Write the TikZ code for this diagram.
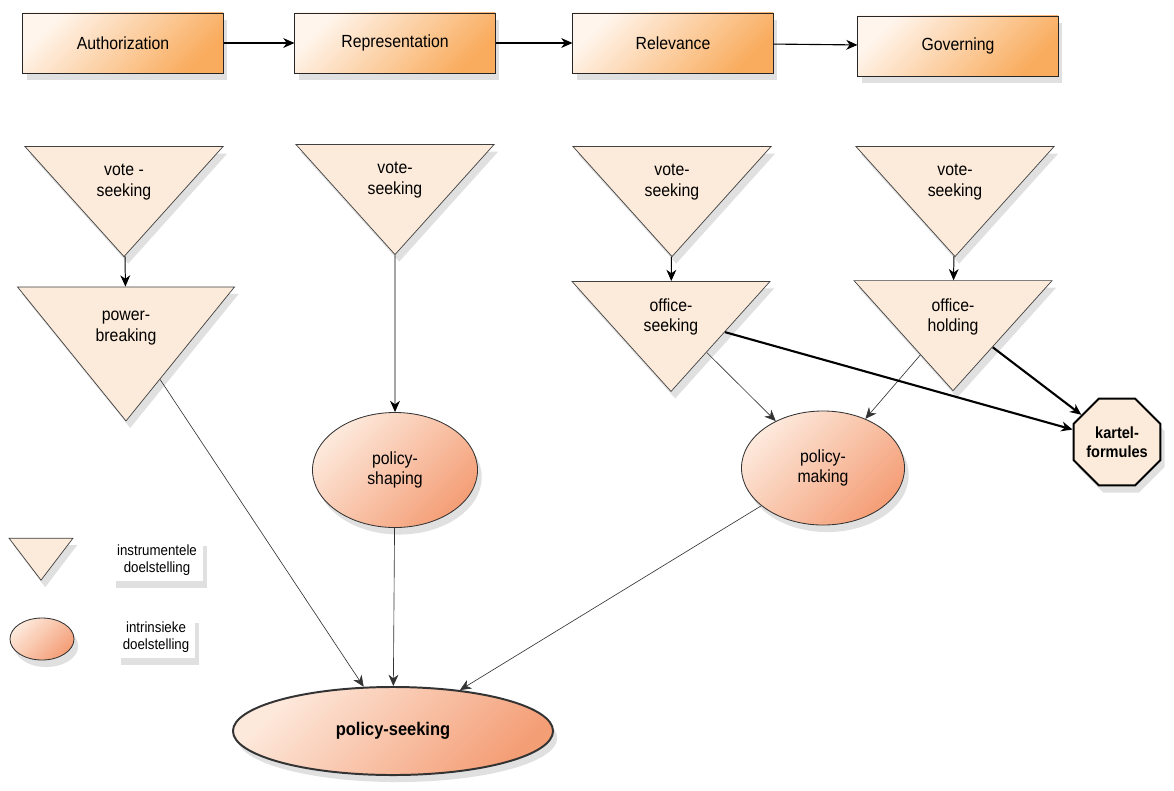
\documentclass[tikz,border=0pt]{standalone}
\usepackage{fontspec}
\setmainfont{Liberation Sans}[FakeStretch=0.9]
\usetikzlibrary{shapes.geometric, shadows, arrows.meta}
\definecolor{phaselight}{HTML}{FFF5EC}
\definecolor{phasedark}{HTML}{F9AC5E}
\definecolor{cream}{HTML}{FCEBDA}
\definecolor{ovallight}{HTML}{FDE9DC}
\definecolor{ovaldark}{HTML}{F49E76}
\tikzset{
	->, % makes the edges directed
	>={Stealth[length=8pt, width=7pt, inset=2.5pt]}, % bold arrow heads
	soft shadow/.style={drop shadow={shadow xshift=3pt, shadow yshift=-5pt, fill=black!40, opacity=0.3}}, % grey shadow under every shape
	phase/.style={rectangle, draw=black!85, line width=0.7pt, top color=phaselight, bottom color=phasedark, shading angle=45, minimum width=5cm, minimum height=1.5cm, soft shadow, font=\fontsize{12.5}{14.5}\selectfont}, % the four phases on top
	instrumental/.style={isosceles triangle, isosceles triangle stretches, shape border rotate=270, draw=black!75, line width=0.5pt, fill=cream, inner sep=0pt, align=center, soft shadow, font=\fontsize{12.5}{14.5}\selectfont}, % instrumentele doelstelling
	intrinsic/.style={ellipse, draw=black!80, line width=0.6pt, top color=ovallight, bottom color=ovaldark, shading angle=45, inner sep=0pt, align=center, soft shadow, font=\fontsize{12.5}{14.5}\selectfont}, % intrinsieke doelstelling
	kartel/.style={regular polygon, regular polygon sides=8, draw=black, line width=1.4pt, fill=cream, minimum size=2.15cm, inner sep=0pt, align=center, soft shadow, font=\bfseries\fontsize{11.5}{13.5}\selectfont}, % the octagon
	legend/.style={align=center, fill=white, soft shadow, inner sep=4pt, font=\fontsize{10.5}{12}\selectfont}, % legend texts
}

\begin{document}
\begin{tikzpicture}[x=0.025cm, y=-0.025cm]
	\useasboundingbox (0,0) rectangle (1174,790);
	% phases
	\node[phase] (auth) at (123,43) {Authorization};
	\node[phase] (repr) at (395,43) {Representation};
	\node[phase] (relev) at (673,43) {Relevance};
	\node[phase] (gov) at (958,46) {Governing};
	% goals
	\node[instrumental, minimum width=4.95cm, minimum height=2.75cm] (vote1) at (124,182) {vote -\\seeking};
	\node[instrumental, minimum width=5.425cm, minimum height=3.35cm] (power) at (126,328) {power-\\breaking};
	\node[instrumental, minimum width=4.95cm, minimum height=2.75cm] (vote2) at (395,180) {vote-\\seeking};
	\node[instrumental, minimum width=4.95cm, minimum height=2.75cm] (vote3) at (672,182) {vote-\\seeking};
	\node[instrumental, minimum width=4.95cm, minimum height=2.75cm] (offseek) at (671,317) {office-\\seeking};
	\node[instrumental, minimum width=4.95cm, minimum height=2.75cm] (vote4) at (955,182) {vote-\\seeking};
	\node[instrumental, minimum width=4.95cm, minimum height=2.75cm] (offhold) at (953,317) {office-\\holding};
	\node[intrinsic, minimum width=4.125cm, minimum height=2.875cm] (shaping) at (395,470) {policy-\\shaping};
	\node[intrinsic, minimum width=4.075cm, minimum height=2.85cm] (making) at (823,468) {policy-\\making};
	\node[intrinsic, line width=1.4pt, minimum width=8cm, minimum height=2.2cm, font=\bfseries\fontsize{13}{15}\selectfont] (seeking) at (393,731) {policy-seeking};
	\node[kartel] (formules) at (1117,442) {kartel-\\formules};
	% legend
	\node[instrumental, minimum width=1.6cm, minimum height=1.05cm] (legtri) at (41,554) {};
	\node[legend] (legtritext) at (157,560) {instrumentele\\doelstelling};
	\node[intrinsic, minimum width=1.6cm, minimum height=1.05cm] (legoval) at (42,639) {};
	\node[legend] (legovaltext) at (156,637) {intrinsieke\\doelstelling};
	% connectors
	\draw[line width=0.8pt] (auth) edge (repr)
			(repr) edge (relev)
			(relev) edge (gov);
	\draw[line width=0.7pt] (vote1) edge (power)
			(vote2) edge (shaping)
			(vote3) edge (offseek)
			(vote4) edge (offhold);
	\draw[line width=0.45pt, black!80] (power) edge (seeking)
			(shaping) edge (seeking)
			(making) edge (seeking)
			(offseek) edge (making)
			(offhold) edge (making);
	\draw[line width=1.5pt] (offseek) edge (formules)
			(offhold) edge (formules);
\end{tikzpicture}
\end{document}
